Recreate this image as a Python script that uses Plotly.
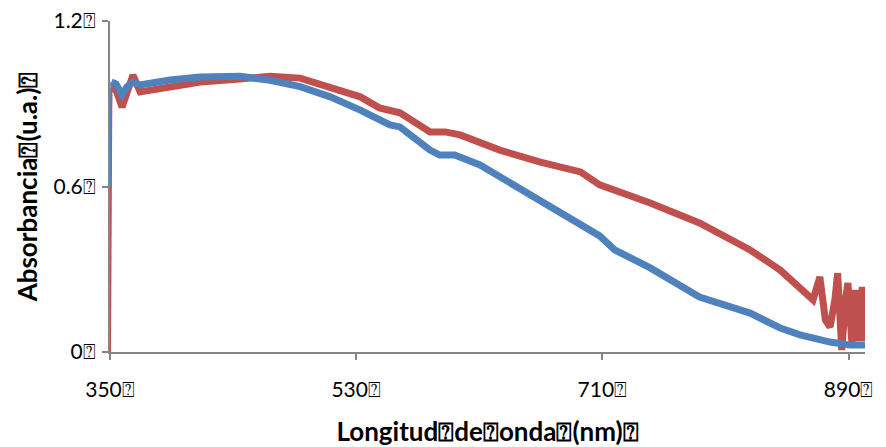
import plotly.graph_objects as go

BOX = "\u2370"

# Blue series (nm, absorbance)
blue_x = [350, 351, 354.4, 358.8, 362.4, 366.8, 371.9, 393.9, 415.8, 445, 467, 489, 511, 533,
          554.7, 562, 584, 591, 602, 620.5, 642.5, 664.4, 693.7, 708, 719, 745, 781, 818,
          840, 854.5, 876.5, 891, 902]
blue_y = [0.60, 0.979, 0.972, 0.932, 0.961, 0.979, 0.968, 0.986, 0.997, 1.0, 0.985, 0.962,
          0.925, 0.877, 0.823, 0.816, 0.732, 0.714, 0.714, 0.678, 0.613, 0.551, 0.468, 0.421,
          0.370, 0.305, 0.199, 0.141, 0.087, 0.062, 0.036, 0.025, 0.025]

# Red series (nm, absorbance)
red_x = [350, 351, 354.4, 358.8, 362.4, 366.8, 372, 394, 416, 445, 467, 489, 511, 533, 547,
         562, 584, 595, 606, 635, 664, 694, 708, 745, 781, 818, 840, 854.5, 864, 869, 873,
         876.5, 880, 882, 885, 888, 889.5, 892.5, 894.7, 897, 900, 902]
red_y = [0.0, 0.957, 0.95, 0.888, 0.95, 1.004, 0.943, 0.961, 0.979, 0.99, 1.0, 0.993,
         0.962, 0.925, 0.885, 0.867, 0.798, 0.798, 0.787, 0.732, 0.689, 0.653, 0.606, 0.540,
         0.468, 0.370, 0.297, 0.236, 0.189, 0.272, 0.116, 0.091, 0.19, 0.286, 0.007, 0.20,
         0.25, 0.025, 0.225, 0.04, 0.236, 0.04]

x_ticks = [350, 530, 710, 890]
x_labels = ["350" + BOX, "530" + BOX, "710" + BOX, "890" + BOX]
y_ticks = [0, 0.6, 1.2]
y_labels = ["0" + BOX, "0.6" + BOX, "1.2" + BOX]

x_title = "Longitud" + BOX + "de" + BOX + "onda" + BOX + "(nm)" + BOX
y_title = "Absorbancia" + BOX + "(u.a.)" + BOX

RED = "#C0504D"
BLUE = "#4F81BD"

fig = go.Figure()
# thin initial segments
fig.add_trace(go.Scatter(x=red_x[:2], y=red_y[:2], mode="lines",
                         line=dict(color=RED, width=2), showlegend=False, hoverinfo="skip"))
fig.add_trace(go.Scatter(x=red_x[1:], y=red_y[1:], mode="lines",
                         line=dict(color=RED, width=7), showlegend=False))
fig.add_trace(go.Scatter(x=blue_x[:2], y=blue_y[:2], mode="lines",
                         line=dict(color=BLUE, width=2), showlegend=False, hoverinfo="skip"))
fig.add_trace(go.Scatter(x=blue_x[1:], y=blue_y[1:], mode="lines",
                         line=dict(color=BLUE, width=7), showlegend=False))

axis_font = dict(family="Lato, Open Sans, DejaVu Sans", size=21, color="#000000")
title_font = dict(family="Lato, Open Sans, DejaVu Sans", size=26, color="#000000")

fig.update_layout(
    width=886, height=447,
    margin=dict(l=110, r=21, t=21, b=95),
    paper_bgcolor="white", plot_bgcolor="white",
    xaxis=dict(range=[350, 902], tickvals=x_ticks, ticktext=x_labels, automargin=False,
               showgrid=False, zeroline=False, showline=True, linecolor="#868686",
               linewidth=2, ticks="outside", ticklen=6, tickcolor="#868686", tickwidth=2,
               tickfont=axis_font, ticklabelstandoff=12,
               title=dict(text="<b>" + x_title + "</b>", font=title_font, standoff=26)),
    yaxis=dict(range=[0, 1.2], tickvals=y_ticks, ticktext=y_labels, automargin=False,
               showgrid=False, zeroline=False, showline=True, linecolor="#868686",
               linewidth=2, ticks="outside", ticklen=6, tickcolor="#868686", tickwidth=2,
               tickfont=axis_font, ticklabelstandoff=2,
               title=dict(text="<b>" + y_title + "</b>", font=title_font, standoff=8)),
)

fig.write_html("out.html")
